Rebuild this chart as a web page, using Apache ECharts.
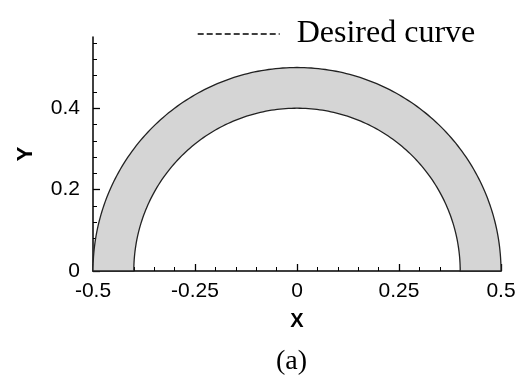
<!DOCTYPE html>
<html>
<head>
<meta charset="utf-8">
<script src="https://cdn.jsdelivr.net/npm/echarts@6/dist/echarts.min.js"></script>
<style>
  html, body { margin: 0; padding: 0; background: #fff; }
  #chart { width: 522px; height: 379px; }
</style>
</head>
<body>
<div id="chart"></div>
<script>
// Half-annulus channel: inner and outer wall radii
const wallRadii = [0.4, 0.5];
// Axis ranges and tick values
const xRange = [-0.5, 0.5];
const yRange = [0, 0.575];
const xTickStep = 0.25;
const yMajorTicks = [0, 0.2, 0.4];
const yMinorTicks = [0, 0.04, 0.08, 0.12, 0.16, 0.2, 0.24, 0.28, 0.32, 0.36, 0.4, 0.44, 0.48, 0.52, 0.56];
const legendName = 'Desired curve';
const caption = '(a)';

const chart = echarts.init(document.getElementById('chart'));

function fmt(v) {
  return String(Math.round(v * 1000) / 1000);
}

// Draws the filled arch between the two wall radii, from angle pi down to 0 and back
function renderArch(params, api) {
  const rIn = api.value(0);
  const rOut = api.value(1);
  const n = 180;
  const pts = [];
  for (let i = 0; i <= n; i++) {
    const a = Math.PI * (1 - i / n);
    pts.push(api.coord([rOut * Math.cos(a), rOut * Math.sin(a)]));
  }
  for (let i = 0; i <= n; i++) {
    const a = Math.PI * (i / n);
    pts.push(api.coord([rIn * Math.cos(a), rIn * Math.sin(a)]));
  }
  return {
    type: 'polygon',
    shape: { points: pts },
    style: { fill: '#d5d5d5', stroke: '#222', lineWidth: 1.3 }
  };
}

const axisColor = '#000';
const sansFont = '"Liberation Sans", Arial, sans-serif';

chart.setOption({
  animation: false,
  backgroundColor: '#fff',
  grid: { left: 93, right: 21, top: 37, bottom: 108, containLabel: false },
  legend: {
    data: [legendName],
    left: 192,
    top: 13,
    itemWidth: 82,
    itemHeight: 12,
    itemStyle: { color: 'transparent', borderWidth: 0 },
    lineStyle: { color: '#000', width: 1.4, type: [6, 3] },
    textStyle: {
      fontFamily: '"Liberation Serif", "Times New Roman", serif',
      fontSize: 32,
      color: '#000',
      padding: [0, 0, 0, 12]
    }
  },
  xAxis: {
    type: 'value',
    min: xRange[0],
    max: xRange[1],
    interval: xTickStep,
    name: 'X',
    nameLocation: 'middle',
    nameGap: 40,
    nameTextStyle: { fontFamily: sansFont, fontWeight: 'bold', fontSize: 20, color: '#000' },
    axisLine: { onZero: false, lineStyle: { color: axisColor, width: 1.5 } },
    axisTick: { inside: true, length: 7, lineStyle: { color: axisColor, width: 1.3 } },
    minorTick: { show: true, splitNumber: 5, length: 4, lineStyle: { color: axisColor, width: 1 } },
    axisLabel: { fontFamily: sansFont, fontSize: 21, color: '#000', margin: 10, formatter: fmt },
    splitLine: { show: false }
  },
  yAxis: [
    {
      type: 'value',
      position: 'left',
      min: yRange[0],
      max: yRange[1],
      name: 'Y',
      nameLocation: 'middle',
      nameGap: 56,
      nameRotate: 90,
      nameTextStyle: { fontFamily: sansFont, fontWeight: 'bold', fontSize: 22, color: '#000' },
      axisLine: { show: true, onZero: false, lineStyle: { color: axisColor, width: 1.5 } },
      axisTick: { inside: true, length: 7, customValues: yMajorTicks, lineStyle: { color: axisColor, width: 1.3 } },
      axisLabel: { customValues: yMajorTicks, fontFamily: sansFont, fontSize: 21, color: '#000', margin: 13, formatter: fmt },
      splitLine: { show: false }
    },
    {
      type: 'value',
      position: 'left',
      min: yRange[0],
      max: yRange[1],
      axisLine: { show: false, onZero: false },
      axisTick: { inside: true, length: 4, customValues: yMinorTicks, lineStyle: { color: axisColor, width: 1 } },
      axisLabel: { show: false },
      splitLine: { show: false }
    }
  ],
  graphic: [
    {
      type: 'text',
      left: 276,
      top: 348,
      style: {
        text: caption,
        font: '28px "Liberation Serif", "Times New Roman", serif',
        fill: '#000'
      }
    }
  ],
  series: [
    {
      name: 'Channel',
      type: 'custom',
      renderItem: renderArch,
      data: [wallRadii],
      clip: false,
      silent: true,
      z: 1
    },
    {
      name: legendName,
      type: 'line',
      data: [],
      symbol: 'none',
      lineStyle: { color: '#000', width: 1.4, type: [6, 3] },
      itemStyle: { color: '#000' }
    }
  ]
});
</script>
</body>
</html>
